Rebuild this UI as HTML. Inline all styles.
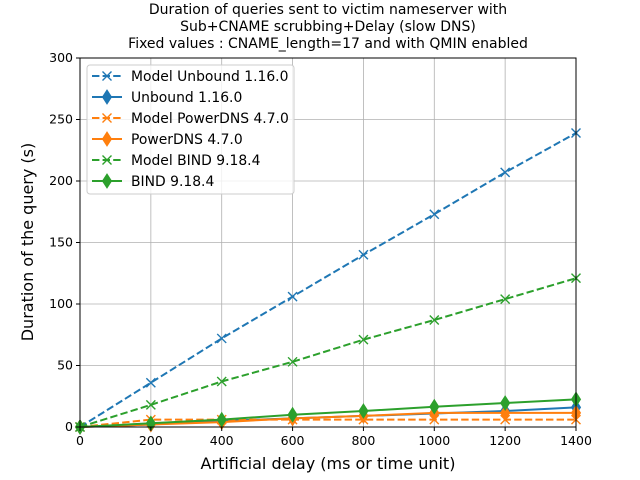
<!DOCTYPE html>
<html><head><meta charset="utf-8"><style>
body{margin:0;background:#fff}
svg{display:block;font-family:"DejaVu Sans","Liberation Sans",sans-serif}
</style></head><body>
<svg id="chart" width="640" height="480" viewBox="0 0 640 480">
<rect width="640" height="480" fill="#fff"/>
<g font-size="14" text-anchor="middle" fill="#000">
<text x="328" y="14">Duration of queries sent to victim nameserver with</text>
<text x="328" y="31">Sub+CNAME scrubbing+Delay (slow DNS)</text>
<text x="328" y="48">Fixed values : CNAME_length=17 and with QMIN enabled</text>
</g>
<g id="grid"></g>
<g id="series"></g>
<rect x="80" y="58" width="496" height="369" fill="none" stroke="#000" stroke-width="1"/>
<g id="ticks" font-size="12.5"></g>
<text x="328" y="469" font-size="16" text-anchor="middle">Artificial delay (ms or time unit)</text>
<text transform="translate(33,242) rotate(-90)" font-size="16" text-anchor="middle">Duration of the query (s)</text>
<g id="legend"></g>
</svg>
<script>
const xValues=[0,200,400,600,800,1000,1200,1400];
const modelUnbound=[0,36,72,106,140,173,207,239];
const unbound=[0,2,5,7,9,11,13,16];
const modelPowerDNS=[0,6,6,6,6,6,6,6];
const powerDNS=[0,2,4,7,9,11.5,11.5,11.5];
const modelBind=[0,18,37,53,71,87,104,121];
const bind=[0,3,6,10,13,16.5,19.5,22.5];
const xTicks=[0,200,400,600,800,1000,1200,1400];
const yTicks=[0,50,100,150,200,250,300];
const seriesNames=["Model Unbound 1.16.0","Unbound 1.16.0","Model PowerDNS 4.7.0","PowerDNS 4.7.0","Model BIND 9.18.4","BIND 9.18.4"];
const NS="http://www.w3.org/2000/svg";
const X0=80,X1=576,Y0=427,Y1=58;
const sx=v=>X0+(v-0)/(1400-0)*(X1-X0);
const sy=v=>Y0-(v-0)/(300-0)*(Y0-Y1);
function mk(tag,attrs,parent){const e=document.createElementNS(NS,tag);for(const k in attrs)e.setAttribute(k,attrs[k]);parent.appendChild(e);return e;}
const grid=document.getElementById('grid'),ticks=document.getElementById('ticks');
xTicks.forEach(t=>{
 const g=mk('line',{x1:sx(t),x2:sx(t),y1:Y1,y2:Y0,stroke:'#b0b0b0','stroke-width':0.8},grid);
 
 
 mk('line',{x1:sx(t),x2:sx(t),y1:Y0,y2:Y0+4,stroke:'#000'},ticks);
 const l=mk('text',{x:sx(t),y:Y0+18,'text-anchor':'middle'},ticks);l.textContent=t;
 
 
});
yTicks.forEach(t=>{
 const g=mk('line',{x1:X0,x2:X1,y1:sy(t),y2:sy(t),stroke:'#b0b0b0','stroke-width':0.8},grid);
 
 
 mk('line',{x1:X0-4,x2:X0,y1:sy(t),y2:sy(t),stroke:'#000'},ticks);
 const l=mk('text',{x:X0-7,y:sy(t)+4,'text-anchor':'end'},ticks);l.textContent=t;
 
 
});
function marker(parent,x,y,type,color){
 if(type==='x'){
  mk('path',{d:`M${x-4.5},${y-4.5}L${x+4.5},${y+4.5}M${x-4.5},${y+4.5}L${x+4.5},${y-4.5}`,stroke:color,'stroke-width':1.4,fill:'none'},parent);
 }else{
  mk('path',{d:`M${x},${y-7}L${x+4.5},${y}L${x},${y+7}L${x-4.5},${y}Z`,fill:color,stroke:color},parent);
 }
}
const defs=[
 [modelUnbound,'#1f77b4',true],[unbound,'#1f77b4',false],
 [modelPowerDNS,'#ff7f0e',true],[powerDNS,'#ff7f0e',false],
 [modelBind,'#2ca02c',true],[bind,'#2ca02c',false]];
const ser=document.getElementById('series');
defs.forEach((d,i)=>{
 const [vals,color,dash]=d;
 const g=mk('g',{},ser);
 
 
 mk('polyline',{points:vals.map((v,j)=>sx(xValues[j])+','+sy(v)).join(' '),fill:'none',stroke:color,'stroke-width':2,'stroke-dasharray':dash?'7.4,3.2':'none'},g);
 vals.forEach((v,j)=>marker(g,sx(xValues[j]),sy(v),dash?'x':'d',color));
});
const leg=document.getElementById('legend');
const box=mk('rect',{x:87,y:65,width:207,height:129,rx:3,fill:'#fff','fill-opacity':0.8,stroke:'#ccc'},leg);


defs.forEach((d,i)=>{
 const y=76+i*21;const [,color,dash]=d;
 const g=mk('g',{},leg);
 
 
 mk('line',{x1:92,x2:122,y1:y,y2:y,stroke:color,'stroke-width':2,'stroke-dasharray':dash?'7.4,3.2':'none'},g);
 marker(g,107,y,dash?'x':'d',color);
 const t=mk('text',{x:131,y:y+5,'font-size':13.9},g);t.textContent=seriesNames[i];
});
</script>
</body></html>
